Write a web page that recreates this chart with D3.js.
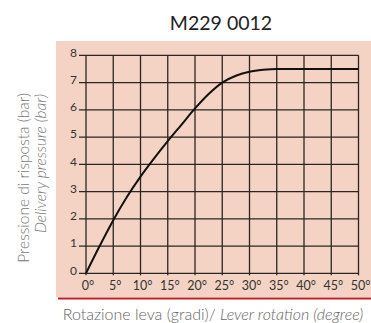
<!DOCTYPE html>
<html>
<head>
<meta charset="utf-8">
<script src="https://cdn.jsdelivr.net/npm/d3@7"></script>
<style>
  html, body { margin: 0; padding: 0; background: #fff; }
  svg { display: block; }
  text { font-family: Lato, "Open Sans", sans-serif; }
</style>
</head>
<body>
<div id="chart"></div>
<script>
// Lever rotation (degrees) vs delivery pressure (bar)
const rotation = [0, 2.5, 5, 7.5, 10, 12.5, 15, 17.5, 20, 22.5, 25, 27.5, 30, 32.5, 35, 40, 45, 50];
const pressure = [0, 1.0, 1.95, 2.8, 3.55, 4.22, 4.85, 5.45, 6.05, 6.58, 7.0, 7.25, 7.4, 7.47, 7.5, 7.5, 7.5, 7.5];
const xTicks = [0, 5, 10, 15, 20, 25, 30, 35, 40, 45, 50];
const yTicks = [0, 1, 2, 3, 4, 5, 6, 7, 8];
const title = "M229 0012";
const yTitle1 = "Pressione di risposta (bar)";
const yTitle2 = "Delivery pressure (bar)";
const xTitleMain = "Rotazione leva (gradi)/ ";
const xTitleItalic = "Lever rotation (degree)";

const W = 371, H = 323;
const svg = d3.select("#chart").append("svg").attr("width", W).attr("height", H);

const x = d3.scaleLinear().domain([0, 50]).range([86, 358.5]);
const y = d3.scaleLinear().domain([0, 8]).range([273.3, 55.3]);

// tinted panel
svg.append("rect").attr("x", 56).attr("y", 41).attr("width", W - 56).attr("height", 256)
  .attr("fill", "#f4d3c4");

// red baseline under the panel
svg.append("line").attr("x1", 58).attr("x2", W).attr("y1", 298.5).attr("y2", 298.5)
  .attr("stroke", "#c41a24").attr("stroke-width", 2.2);

// grid: horizontal lines (with short tick to the left)
const grid = svg.append("g").attr("stroke", "#2b2622").attr("stroke-width", 1.3);
grid.selectAll("line.h").data(yTicks).join("line").attr("class", "h")
  .attr("x1", x(0) - 7).attr("x2", x(50))
  .attr("y1", d => y(d)).attr("y2", d => y(d));
// vertical lines
grid.selectAll("line.v").data(xTicks).join("line").attr("class", "v")
  .attr("x1", d => x(d)).attr("x2", d => x(d))
  .attr("y1", y(8)).attr("y2", y(0) + 2);

// y tick labels
svg.append("g").selectAll("text").data(yTicks).join("text")
  .attr("x", x(0) - 9).attr("y", d => y(d)).attr("dy", "0.1em")
  .attr("text-anchor", "end").attr("font-size", 12).attr("fill", "#333")
  .text(d => d);

// x tick labels
svg.append("g").selectAll("text").data(xTicks).join("text")
  .attr("x", d => x(d) + 2).attr("y", 290)
  .attr("text-anchor", "middle").attr("font-size", 12.5).attr("fill", "#333")
  .text(d => d + "°");

// response curve
const line = d3.line().x((d, i) => x(rotation[i])).y(d => y(d)).curve(d3.curveMonotoneX);
svg.append("path").datum(pressure).attr("d", line)
  .attr("fill", "none").attr("stroke", "#111").attr("stroke-width", 2);

// title
svg.append("text").attr("x", 221).attr("y", 30).attr("text-anchor", "middle")
  .attr("font-size", 19.5).attr("fill", "#222").text(title);

// y axis titles
svg.append("text").attr("transform", "translate(29,93) rotate(-90)")
  .attr("text-anchor", "end").attr("font-size", 15.5).attr("font-weight", 300).attr("fill", "#777")
  .text(yTitle1);
svg.append("text").attr("transform", "translate(46,94) rotate(-90)")
  .attr("text-anchor", "end").attr("font-size", 15.5).attr("font-weight", 300)
  .attr("font-style", "italic").attr("fill", "#777")
  .text(yTitle2);

// x axis title
const xt = svg.append("text").attr("x", 213).attr("y", 319.5).attr("text-anchor", "middle")
  .attr("font-size", 16).attr("font-weight", 300).attr("fill", "#666");
xt.append("tspan").text(xTitleMain);
xt.append("tspan").attr("font-style", "italic").text(xTitleItalic);
</script>
</body>
</html>
